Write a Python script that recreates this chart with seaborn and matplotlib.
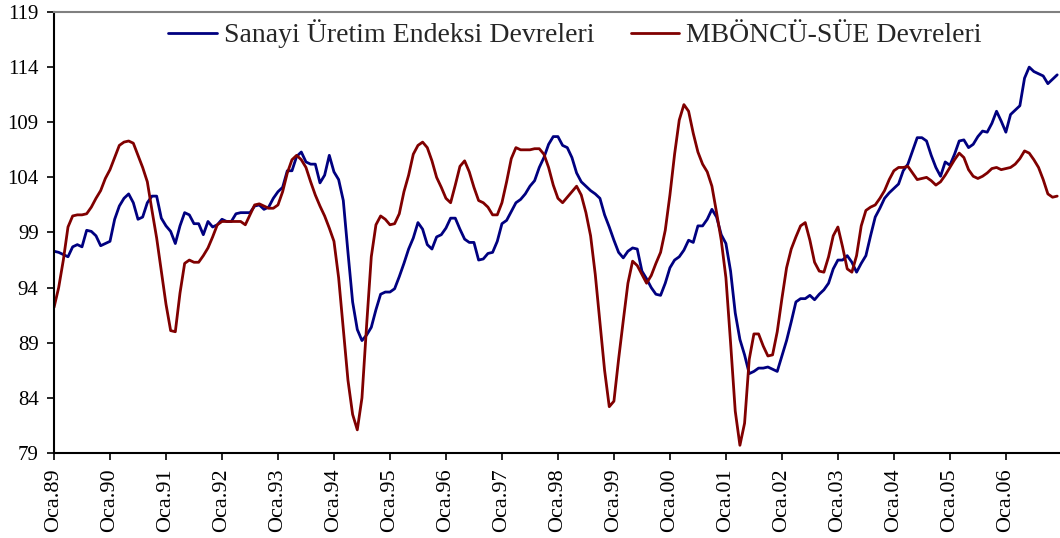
import numpy as np
import pandas as pd
import matplotlib
matplotlib.use("Agg")
import matplotlib.pyplot as plt
import seaborn as sns

# Monthly data, Jan 1989 - Dec 2006
sanayi = [
    97.3, 97.2, 97.0, 96.8, 97.7, 97.9, 97.7, 99.2, 99.1, 98.7, 97.8, 98.0,
    98.2, 100.2, 101.4, 102.1, 102.5, 101.7, 100.2, 100.4, 101.7, 102.3, 102.3, 100.3,
    99.6, 99.1, 98.0, 99.6, 100.8, 100.6, 99.8, 99.8, 98.8, 100.0, 99.5, 99.7,
    100.2, 100.0, 100.0, 100.7, 100.8, 100.8, 100.8, 101.4, 101.5, 101.1, 101.3, 102.1,
    102.7, 103.1, 104.6, 104.6, 105.9, 106.3, 105.4, 105.2, 105.2, 103.5, 104.2, 106.0,
    104.5, 103.8, 101.9, 97.2, 92.7, 90.2, 89.2, 89.7, 90.4, 92.0, 93.4, 93.6,
    93.6, 93.9, 95.0, 96.2, 97.5, 98.5, 99.9, 99.3, 97.9, 97.5, 98.6, 98.8,
    99.4, 100.3, 100.3, 99.3, 98.4, 98.1, 98.1, 96.5, 96.6, 97.1, 97.2, 98.2,
    99.8, 100.1, 100.9, 101.7, 102.0, 102.5, 103.2, 103.7, 104.9, 105.8, 107.0, 107.7,
    107.7, 106.9, 106.7, 105.8, 104.4, 103.6, 103.2, 102.8, 102.5, 102.1, 100.6, 99.5,
    98.3, 97.2, 96.7, 97.3, 97.6, 97.5, 95.5, 94.8, 94.0, 93.4, 93.3, 94.4,
    95.8, 96.5, 96.8, 97.4, 98.3, 98.1, 99.6, 99.6, 100.2, 101.1, 100.4, 98.8,
    98.0, 95.5, 91.7, 89.3, 87.9, 86.2, 86.4, 86.7, 86.7, 86.8, 86.6, 86.4,
    87.8, 89.2, 90.9, 92.7, 93.0, 93.0, 93.3, 92.9, 93.4, 93.8, 94.4, 95.7,
    96.5, 96.5, 96.9, 96.3, 95.4, 96.2, 96.9, 98.7, 100.4, 101.2, 102.1, 102.6,
    103.0, 103.4, 104.6, 105.2, 106.4, 107.6, 107.6, 107.3, 106.0, 104.9, 104.1, 105.4,
    105.1, 106.1, 107.3, 107.4, 106.7, 107.0, 107.7, 108.2, 108.1, 108.9, 110.0, 109.1,
    108.1, 109.7, 110.1, 110.5, 113.0, 114.0, 113.6, 113.4, 113.2, 112.5, 112.9, 113.3,
]

mboncu = [
    92.2, 94.0, 96.5, 99.5, 100.5, 100.6, 100.6, 100.7, 101.3, 102.1, 102.8, 103.9,
    104.7, 105.8, 106.9, 107.2, 107.3, 107.1, 106.0, 104.9, 103.6, 101.0, 98.5, 95.5,
    92.5, 90.1, 90.0, 93.5, 96.2, 96.5, 96.3, 96.3, 96.9, 97.6, 98.6, 99.7,
    100.0, 100.0, 100.0, 100.0, 100.0, 99.7, 100.6, 101.5, 101.6, 101.4, 101.2, 101.2,
    101.5, 102.7, 104.4, 105.6, 106.0, 105.6, 104.9, 103.6, 102.4, 101.4, 100.5, 99.4,
    98.2, 94.9, 90.3, 85.6, 82.5, 81.1, 84.0, 90.6, 96.8, 99.7, 100.5, 100.2,
    99.7, 99.8, 100.7, 102.7, 104.2, 106.1, 106.9, 107.2, 106.7, 105.5, 104.0, 103.1,
    102.1, 101.7, 103.3, 105.0, 105.5, 104.5, 103.1, 101.9, 101.7, 101.3, 100.6, 100.6,
    101.7, 103.6, 105.7, 106.7, 106.5, 106.5, 106.5, 106.6, 106.6, 106.1, 104.9, 103.3,
    102.1, 101.7, 102.2, 102.7, 103.2, 102.4, 100.8, 98.7, 95.2, 90.9, 86.5, 83.2,
    83.7, 87.5, 91.0, 94.4, 96.4, 96.0, 95.2, 94.4, 95.1, 96.2, 97.2, 99.2,
    102.4, 106.1, 109.2, 110.6, 110.0, 108.0, 106.3, 105.2, 104.5, 103.2, 100.8, 98.3,
    94.9, 89.0, 82.8, 79.7, 81.7, 87.5, 89.8, 89.8, 88.7, 87.8, 87.9, 90.0,
    93.0, 95.8, 97.5, 98.6, 99.6, 99.9, 98.3, 96.3, 95.5, 95.4, 96.8, 98.7,
    99.5, 97.7, 95.7, 95.4, 96.9, 99.6, 101.0, 101.3, 101.5, 102.1, 102.8, 103.8,
    104.6, 104.9, 104.9, 105.0, 104.4, 103.8, 103.9, 104.0, 103.7, 103.3, 103.6, 104.2,
    104.9, 105.6, 106.2, 105.8, 104.7, 104.1, 103.9, 104.1, 104.4, 104.8, 104.9, 104.7,
    104.8, 104.9, 105.2, 105.7, 106.4, 106.2, 105.6, 104.9, 103.8, 102.5, 102.2, 102.3,
]

series_names = ["Sanayi Üretim Endeksi Devreleri", "MBÖNCÜ-SÜE Devreleri"]
series_colors = ["#000080", "#800000"]
tick_labels = ["Oca.%02d" % (y % 100) for y in range(1989, 2007)]
y_ticks = [79, 84, 89, 94, 99, 104, 109, 114, 119]

months = np.arange(len(sanayi))

sns.set_style("ticks")
plt.rcParams["font.family"] = ["Liberation Serif", "DejaVu Serif"]

fig = plt.figure(figsize=(10.6, 5.38), dpi=100)
ax = fig.add_axes([54 / 1060, 1 - 453 / 538, 1 - 54 / 1060, (453 - 12) / 538])

for vals, name, col in zip([sanayi, mboncu], series_names, series_colors):
    sns.lineplot(x=months, y=vals, ax=ax, color=col, linewidth=2.0, label=name)

ax.set_xlim(0, 215.6)
ax.set_ylim(79, 119)
ax.set_yticks(y_ticks)
ax.set_yticklabels([str(v) for v in y_ticks], fontsize=15)
ax.set_xticks(np.arange(0, len(sanayi), 12))
ax.set_xticklabels(tick_labels, rotation=90, fontsize=16)
ax.set_xlabel("")
ax.set_ylabel("")

ax.tick_params(axis="both", direction="out", length=5, width=1.2, color="black",
               labelcolor="black")
ax.tick_params(axis="y", pad=6)
ax.tick_params(axis="x", pad=6)

for side in ["left", "bottom"]:
    ax.spines[side].set_color("black")
    ax.spines[side].set_linewidth(1.5)
ax.spines["top"].set_visible(True)
ax.spines["top"].set_color("#808080")
ax.spines["top"].set_linewidth(1.5)
ax.spines["right"].set_visible(False)

ax.get_legend().remove()
handles, labels = ax.get_legend_handles_labels()
fig.legend(handles, labels, loc="center", bbox_to_anchor=(575 / 1060, 1 - 34 / 538),
           ncol=2, frameon=False, fontsize=20, handlelength=1.75,
           handletextpad=0.25, columnspacing=1.3, borderpad=0)

fig.savefig("out.png", dpi=100)
